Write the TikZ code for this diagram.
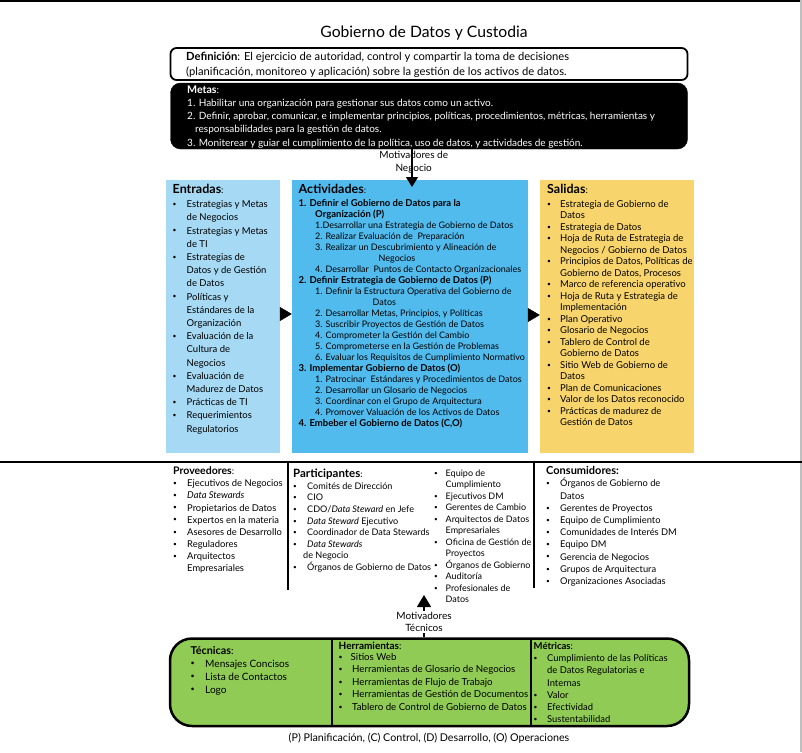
\documentclass[tikz,border=0pt]{standalone}
\usepackage{fontspec}
\setmainfont{Lato}
\usetikzlibrary{arrows.meta}
\definecolor{entcol}{HTML}{A6D9F4}
\definecolor{actcol}{HTML}{52BBEE}
\definecolor{salcol}{HTML}{F8D46C}
\definecolor{tecol}{HTML}{8FCB55}
\newcommand{\bulx}[1][12pt]{\makebox[#1][l]{\raisebox{0.12em}{\scalebox{0.7}{\textbullet}}}}
\newcommand{\indx}[1][12pt]{\hspace*{#1}}
\newcommand{\tp}{\rule{0pt}{10pt}}

\begin{document}
\begin{tikzpicture}[x=1pt, y=-1pt,
	lista/.style={anchor=north west, inner sep=0pt, align=left},
	flecha/.style={-{Triangle[width=14pt,length=12pt]}}]
	\useasboundingbox (0,0) rectangle (802,752);
	% marco
	\fill[black] (0,0) rectangle (802,2.5);
	\fill[black!25] (800,0) rectangle (802,752);
	\node[font=\fontsize{15.7}{18}\selectfont] (titulo) at (424,32.6) {Gobierno de Datos y Custodia};
	% definicion y metas
	\node[draw, line width=1.8pt, rounded corners=6pt, fill=white, minimum width=517pt, minimum height=32pt] (def) at (429,64) {};
	\node[draw, fill=black, rounded corners=10pt, minimum width=517pt, minimum height=66pt] (metas) at (429,116) {};
	\node[lista, font=\fontsize{11.2}{15}\selectfont] (defTxt) at (186,50.5) {\tp{\bfseries Definición}: El ejercicio de autoridad, control y compartir la toma de decisiones\\
		(planificación, monitoreo y aplicación) sobre la gestión de los activos de datos.};
	\node[lista, text=white, font=\fontsize{10}{13.2}\selectfont] (metasTxt) at (187,83) {\tp{\bfseries\fontsize{10.6}{13}\selectfont Metas}:\\
		1. Habilitar una organización para gestionar sus datos como un activo.\\
		2. Definir, aprobar, comunicar, e implementar principios, políticas, procedimientos, métricas, herramientas y\\
		\hspace*{8pt}responsabilidades para la gestión de datos.\\
		3. Moniterear y guiar el cumplimiento de la política, uso de datos, y actividades de gestión.};
	% cajas centrales
	\node[fill=entcol, minimum width=114pt, minimum height=273pt] (ent) at (223,316.5) {};
	\node[fill=actcol, minimum width=236pt, minimum height=273pt] (act) at (410,316.5) {};
	\node[fill=salcol, minimum width=154pt, minimum height=273pt] (sal) at (617,316.5) {};
	\coordinate (tipN) at (412,187);
	\draw[line width=1.2pt, -{Triangle[width=12pt,length=10pt]}] (metas.south -| tipN) -- (tipN);
	\node[align=center, font=\fontsize{10}{13}\selectfont] (motN) at (413.7,162.5) {Motivadores de\\Negocio};
	\coordinate (fE) at (0,314);
	\coordinate (fS) at (0,315);
	\draw[flecha] (ent.east |- fE) -- (act.west |- fE);
	\draw[flecha] (act.east |- fS) -- (sal.west |- fS);
	\node[lista, font=\fontsize{9.5}{13.2}\selectfont] (entTxt) at (172.5,183.5) {\tp{\bfseries\fontsize{12.5}{13}\selectfont Entradas}:\\[0.8pt]
		\bulx[14pt]Estrategias y Metas\\ \indx[14pt]de Negocios\\
		\bulx[14pt]Estrategias y Metas\\ \indx[14pt]de TI\\
		\bulx[14pt]Estrategias de\\ \indx[14pt]Datos y de Gestión\\ \indx[14pt]de Datos\\
		\bulx[14pt]Políticas y\\ \indx[14pt]Estándares de la\\ \indx[14pt]Organización\\
		\bulx[14pt]Evaluación de la\\ \indx[14pt]Cultura de\\ \indx[14pt]Negocios\\
		\bulx[14pt]Evaluación de\\ \indx[14pt]Madurez de Datos\\
		\bulx[14pt]Prácticas de TI\\
		\bulx[14pt]Requerimientos\\ \indx[14pt]Regulatorios};
	\node[lista, font=\fontsize{9}{11}\selectfont] (actTxt) at (298.5,183.5) {\tp{\bfseries\fontsize{12.5}{13}\selectfont Actividades}:\\[2pt]
		{\bfseries\fontsize{9.5}{11}\selectfont 1. Definir el Gobierno de Datos para la}\\
		\indx[16.5pt]{\bfseries\fontsize{9.5}{11}\selectfont Organización (P)}\\
		\indx[16.5pt]1.Desarrollar una Estrategia de Gobierno de Datos\\
		\indx[16.5pt]2. Realizar Evaluación de\ \ Preparación\\
		\indx[16.5pt]3. Realizar un Descubrimiento y Alineación de\\
		\indx[80pt]Negocios\\
		\indx[16.5pt]4. Desarrollar\ \ Puntos de Contacto Organizacionales\\
		{\bfseries\fontsize{9.5}{11}\selectfont 2. Definir Estrategia de Gobierno de Datos (P)}\\
		\indx[16.5pt]1. Definir la Estructura Operativa del Gobierno de\\
		\indx[74pt]Datos\\
		\indx[16.5pt]2. Desarrollar Metas, Principios, y Políticas\\
		\indx[16.5pt]3. Suscribir Proyectos de Gestión de Datos\\
		\indx[16.5pt]4. Comprometer la Gestión del Cambio\\
		\indx[16.5pt]5. Comprometerse en la Gestión de Problemas\\
		\indx[16.5pt]6. Evaluar los Requisitos de Cumplimiento Normativo\\
		{\bfseries\fontsize{9.5}{11}\selectfont 3. Implementar Gobierno de Datos (O)}\\
		\indx[16.5pt]1. Patrocinar\ \ Estándares y Procedimientos de Datos\\
		\indx[16.5pt]2. Desarrollar un Glosario de Negocios\\
		\indx[16.5pt]3. Coordinar con el Grupo de Arquitectura\\
		\indx[16.5pt]4. Promover Valuación de los Activos de Datos\\
		{\bfseries\fontsize{9.5}{11}\selectfont 4. Embeber el Gobierno de Datos (C,O)}};
	\node[lista, font=\fontsize{9.5}{11.5}\selectfont] (salTxt) at (547,183.5) {\tp{\bfseries\fontsize{12.5}{13}\selectfont Salidas}:\\[2pt]
		\bulx[13pt]Estrategia de Gobierno de\\ \indx[13pt]Datos\\
		\bulx[13pt]Estrategia de Datos\\
		\bulx[13pt]Hoja de Ruta de Estrategia de\\ \indx[13pt]Negocios / Gobierno de Datos\\
		\bulx[13pt]Principios de Datos, Políticas de\\ \indx[13pt]Gobierno de Datos, Procesos\\
		\bulx[13pt]Marco de referencia operativo\\
		\bulx[13pt]Hoja de Ruta y Estrategia de\\ \indx[13pt]Implementación\\
		\bulx[13pt]Plan Operativo\\
		\bulx[13pt]Glosario de Negocios\\
		\bulx[13pt]Tablero de Control de\\ \indx[13pt]Gobierno de Datos\\
		\bulx[13pt]Sitio Web de Gobierno de\\ \indx[13pt]Datos\\
		\bulx[13pt]Plan de Comunicaciones\\
		\bulx[13pt]Valor de los Datos reconocido\\
		\bulx[13pt]Prácticas de madurez de\\ \indx[13pt]Gestión de Datos};
	% roles
	\draw[line width=1.2pt] (0,462) -- (802,462);
	\draw[line width=1.5pt] (288,462) -- (288,590);
	\draw[line width=1.5pt] (534,462) -- (534,588);
	\node[lista, font=\fontsize{9.4}{12.1}\selectfont] (provTxt) at (173,464.5) {\tp{\bfseries\fontsize{10.5}{12}\selectfont Proveedores}:\\
		\bulx[14pt]Ejecutivos de Negocios\\
		\bulx[14pt]\textit{Data Stewards}\\
		\bulx[14pt]Propietarios de Datos\\
		\bulx[14pt]Expertos en la materia\\
		\bulx[14pt]Asesores de Desarrollo\\
		\bulx[14pt]Reguladores\\
		\bulx[14pt]Arquitectos\\ \indx[14pt]Empresariales};
	\node[lista, font=\fontsize{9.1}{11.6}\selectfont] (partTxt) at (293,467.5) {\tp{\bfseries\fontsize{11.5}{12}\selectfont Participantes}:\\
		\bulx[14pt]Comités de Dirección\\
		\bulx[14pt]CIO\\
		\bulx[14pt]CDO/\textit{Data Steward} en Jefe\\
		\bulx[14pt]\textit{Data Steward} Ejecutivo\\
		\bulx[14pt]Coordinador de Data Stewards\\
		\bulx[14pt]\textit{Data Stewards}\\
		\indx[10pt]de Negocio\\
		\bulx[14pt]Órganos de Gobierno de Datos};
	\node[lista, font=\fontsize{9}{11.5}\selectfont] (partTxtB) at (434,466) {\tp\bulx[11.5pt]Equipo de\\ \indx[11.5pt]Cumplimiento\\
		\bulx[11.5pt]Ejecutivos DM\\
		\bulx[11.5pt]Gerentes de Cambio\\
		\bulx[11.5pt]Arquitectos de Datos\\ \indx[11.5pt]Empresariales\\
		\bulx[11.5pt]Oficina de Gestión de\\ \indx[11.5pt]Proyectos\\
		\bulx[11.5pt]Órganos de Gobierno\\
		\bulx[11.5pt]Auditoría\\
		\bulx[11.5pt]Profesionales de\\ \indx[11.5pt]Datos};
	\node[lista, font=\fontsize{9.3}{12.2}\selectfont] (consTxt) at (546,464.5) {\tp{\bfseries\fontsize{11}{12}\selectfont Consumidores:}\\
		\bulx[14pt]Órganos de Gobierno de\\ \indx[14pt]Datos\\
		\bulx[14pt]Gerentes de Proyectos\\
		\bulx[14pt]Equipo de Cumplimiento\\
		\bulx[14pt]Comunidades de Interés DM\\
		\bulx[14pt]Equipo DM\\
		\bulx[14pt]Gerencia de Negocios\\
		\bulx[14pt]Grupos de Arquitectura\\
		\bulx[14pt]Organizaciones Asociadas};
	% tecnicas, herramientas, metricas
	\node[draw, line width=2.5pt, fill=tecol, rounded corners=22pt, minimum width=519pt, minimum height=87.5pt] (verde) at (429.5,682.25) {};
	\foreach \xd in {332,531}
		\draw[line width=1.5pt] (\xd,638.5) -- (\xd,726);
	\coordinate (tipT) at (424,595);
	\draw[line width=1.2pt, flecha] (verde.north -| tipT) -- (tipT);
	\node[align=center, fill=white, inner sep=1pt, font=\fontsize{10}{12.5}\selectfont] (motT) at (424,622) {Motivadores\\Técnicos};
	\node[lista, font=\fontsize{10.1}{13}\selectfont] (tecTxt) at (190.5,644) {\tp{\bfseries\fontsize{10.8}{12}\selectfont Técnicas}:\\
		\bulx[14.5pt]Mensajes Concisos\\
		\bulx[14.5pt]Lista de Contactos\\
		\bulx[14.5pt]Logo};
	\node[lista, font=\fontsize{9.7}{12.5}\selectfont] (herrTxt) at (338.5,639.2) {\tp{\bfseries\fontsize{10}{12}\selectfont Herramientas}:\\[-1.5pt]
		\bulx[12pt]Sitios Web\\
		\bulx[13.5pt]Herramientas de Glosario de Negocios\\
		\bulx[13.5pt]Herramientas de Flujo de Trabajo\\
		\bulx[13.5pt]Herramientas de Gestión de Documentos\\
		\bulx[13.5pt]Tablero de Control de Gobierno de Datos};
	\node[lista, font=\fontsize{9.4}{12.2}\selectfont] (metTxt) at (533.5,639.2) {\tp{\bfseries\fontsize{9.5}{12}\selectfont Métricas}:\\
		\bulx[13.5pt]Cumplimiento de las Políticas\\ \indx[13.5pt]de Datos Regulatorias e\\ \indx[13.5pt]Internas\\
		\bulx[13.5pt]Valor\\
		\bulx[13.5pt]Efectividad\\
		\bulx[13.5pt]Sustentabilidad};
	\node[font=\fontsize{10.7}{12}\selectfont] (pie) at (429,738) {(P) Planificación, (C) Control, (D) Desarrollo, (O) Operaciones};
\end{tikzpicture}
\end{document}
